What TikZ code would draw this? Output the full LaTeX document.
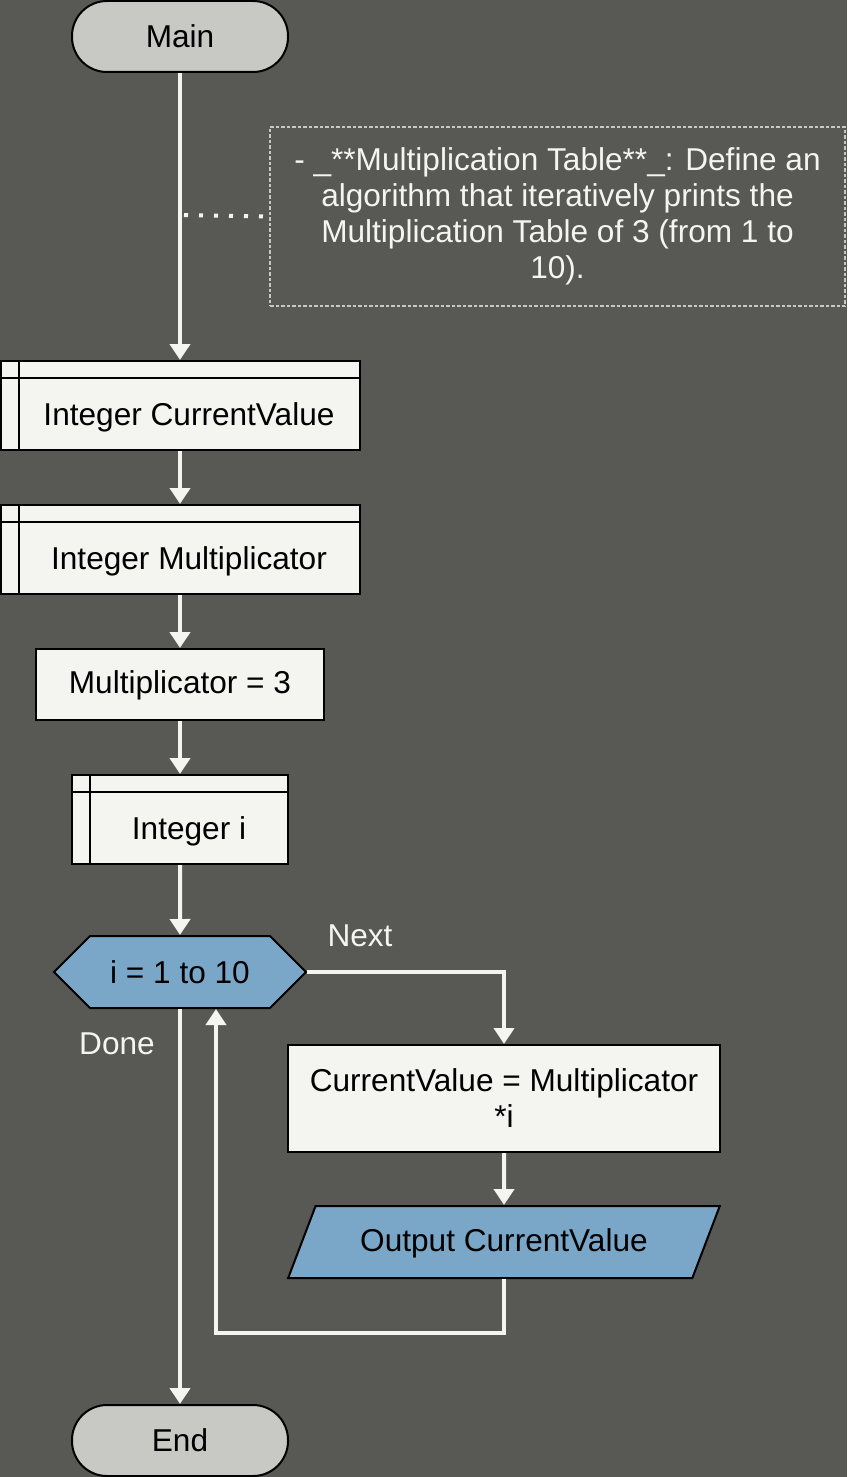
\documentclass[tikz,border=0pt]{standalone}
\usepackage{fontspec}
\setmainfont{Liberation Sans}
\usetikzlibrary{shapes.geometric, shapes.symbols, arrows.meta, calc, positioning}
\definecolor{canvas}{HTML}{585854}
\definecolor{paper}{HTML}{F4F4F0}
\definecolor{stone}{HTML}{C8C8C4}
\definecolor{steel}{HTML}{7AA7C8}
\definecolor{wire}{HTML}{F4F4F0}
\tikzstyle{terminal} = [rectangle, rounded corners=17.5pt, line width=1pt, minimum width=108pt, minimum height=35.5pt, text centered, draw=black, fill=stone]
\tikzstyle{block} = [rectangle, line width=1pt, minimum height=35.5pt, text centered, draw=black, fill=paper]
\tikzstyle{declare} = [block, minimum height=44.5pt, text height=23pt, text depth=3.3pt, execute at begin node=\hspace*{9pt}, path picture={\draw[line width=1pt] ([xshift=9pt]path picture bounding box.north west) -- ([xshift=9pt]path picture bounding box.south west); \draw[line width=1pt] ([yshift=-8.5pt]path picture bounding box.north west) -- ([yshift=-8.5pt]path picture bounding box.north east);}]
\tikzstyle{loop} = [signal, signal to=west and east, signal pointer angle=90, line width=1pt, minimum width=126pt, minimum height=36pt, text centered, draw=black, fill=steel]
\tikzstyle{io} = [trapezium, trapezium left angle=64, trapezium right angle=116, trapezium stretches=true, line width=1pt, minimum width=216pt, minimum height=36pt, text centered, draw=black, fill=steel]
\tikzstyle{note} = [rectangle, draw=stone, line width=0.8pt, dash pattern=on 1.75pt off 1pt, minimum width=287.5pt, minimum height=89.5pt, align=center, text=paper]
\tikzstyle{tag} = [text=paper]
\tikzstyle{arrow} = [line width=2pt, draw=wire, -{Triangle[width=10pt, length=8pt]}]
\tikzstyle{dots} = [line width=2pt, draw=wire, dash pattern=on 2pt off 5.5pt]

\begin{document}
\begin{tikzpicture}[x=0.5pt, y=-0.5pt, font=\fontsize{15.8pt}{18pt}\selectfont, node distance=26.5pt]
	\useasboundingbox[fill=canvas] (0,0) rectangle (847,1477);
	\node (Main) [terminal] at (180,36.5) {Main};
	\node (CurrentValue) [declare, minimum width=179.5pt, below = 143.5pt of Main] {Integer CurrentValue};
	\node (Multiplicator) [declare, minimum width=179.5pt, below = of CurrentValue] {Integer Multiplicator};
	\node (SetMultiplicator) [block, minimum width=144pt, text height=12.5pt, below = of Multiplicator] {Multiplicator = 3};
	\node (Counter) [declare, minimum width=108pt, below = of SetMultiplicator] {Integer i};
	\node (Loop) [loop, below = 35pt of Counter] {i = 1 to 10};
	\node (Product) [block, minimum width=216pt, minimum height=53.5pt, align=center] at (504,1098.5) {CurrentValue = Multiplicator\\*i};
	\node (Output) [io, text height=12.5pt, below = 26pt of Product] {Output CurrentValue};
	\node (End) [terminal] at (180,1440.5) {End};
	\node (Comment) [note] at (557.5,216.5) {- \_**Multiplication Table**\_: Define an\\algorithm that iteratively prints the\\Multiplication Table of 3 (from 1 to\\10).};
	\node (Next) [tag] at (360,936) {Next};
	\node (Done) [tag] at (117,1044) {Done};
	\coordinate (CommentTap) at (184,215);
	\draw [arrow] (Main) -- (CurrentValue);
	\draw [dots] (CommentTap) -- (Comment.west);
	\draw [arrow] (CurrentValue) -- (Multiplicator);
	\draw [arrow] (Multiplicator) -- (SetMultiplicator);
	\draw [arrow] (SetMultiplicator) -- (Counter);
	\draw [arrow] (Counter) -- (Loop);
	\draw [arrow] (Loop.east) -| (Product.north);
	\draw [arrow] (Loop.south) -- (End.north);
	\draw [arrow] (Product) -- (Output);
	\draw [arrow] (Output.south) -- ++(0,-27pt) -| ([xshift=18pt]Loop.south);
\end{tikzpicture}
\end{document}
